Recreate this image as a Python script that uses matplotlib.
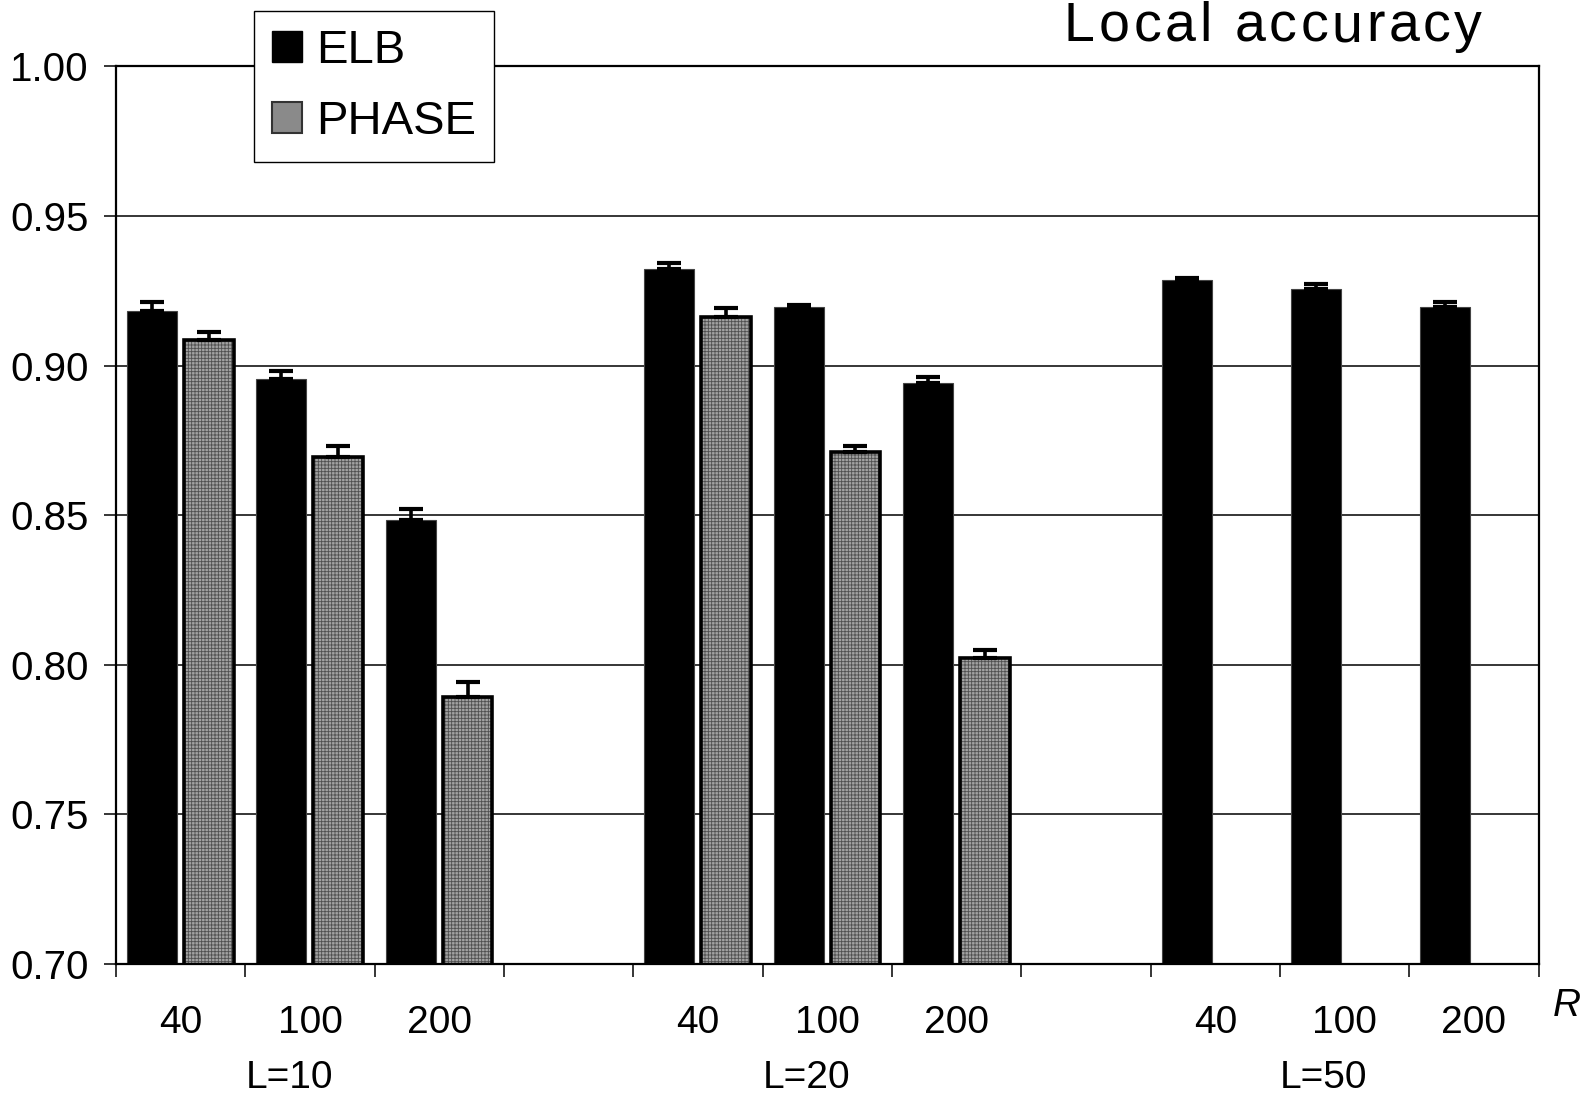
import numpy as np
import matplotlib
matplotlib.use("Agg")
import matplotlib.pyplot as plt
from matplotlib.patches import Patch
from matplotlib import transforms

plt.rcParams['font.family'] = ['Liberation Sans', 'DejaVu Sans']
plt.rcParams['hatch.linewidth'] = 0.6

# R values within each L group, and the groups themselves
r_labels = ['40', '100', '200']
l_groups = ['L=10', 'L=20', 'L=50']

# ELB: all three groups (L=10, L=20, L=50), R = 40, 100, 200
elb_vals = [0.9184, 0.8955, 0.8484,
            0.9324, 0.9195, 0.8943,
            0.9285, 0.9255, 0.9195]
elb_err = [0.0028, 0.0028, 0.0037,
           0.0018, 0.0008, 0.0018,
           0.0008, 0.0017, 0.0017]

# PHASE: only L=10 and L=20
phase_vals = [0.9086, 0.8694, 0.7892,
              0.9164, 0.8712, 0.8022]
phase_err = [0.0026, 0.0038, 0.0049,
             0.0028, 0.0019, 0.0027]

y_ticks = [0.70, 0.75, 0.80, 0.85, 0.90, 0.95, 1.00]

# each R value gets one slot of width 1, with an empty slot between groups
n_slots = len(l_groups) * (len(r_labels) + 1) - 1
slot = np.array([g * 4 + r for g in range(len(l_groups)) for r in range(len(r_labels))])
bar_w = 0.386
elb_x = slot + 0.278
phase_x = slot[:len(phase_vals)] + 0.718

fig = plt.figure(figsize=(15.85, 10.95), dpi=100)
ax = fig.add_axes([0.0732, 0.1196, 0.8975, 0.8197])

for y in y_ticks[1:-1]:
    ax.axhline(y, color='black', lw=1.1, zorder=0)

ax.bar(elb_x, elb_vals, width=bar_w, color='black', edgecolor='#444444', lw=0.8, zorder=2)
# PHASE: fine grey mesh fill, then a black outline on top
ax.bar(phase_x, phase_vals, width=bar_w, color='#a2a2a2', edgecolor='#505050',
       hatch='+++++', lw=0, zorder=2)
ax.bar(phase_x, phase_vals, width=bar_w, fill=False, edgecolor='black', lw=2.6, zorder=3)

ax.errorbar(elb_x, elb_vals, yerr=[np.zeros(len(elb_err)), elb_err], fmt='none',
            ecolor='black', elinewidth=2.6, capsize=8.5, capthick=3, zorder=4)
ax.errorbar(phase_x, phase_vals, yerr=[np.zeros(len(phase_err)), phase_err], fmt='none',
            ecolor='black', elinewidth=2.6, capsize=8.5, capthick=3, zorder=4)

ax.set_xlim(0, n_slots)
ax.set_ylim(0.70, 1.00)
ax.set_yticks(y_ticks)
ax.set_yticklabels([f'{v:.2f}' for v in y_ticks], fontsize=29)
ax.tick_params(axis='y', length=8.5, width=1.1, pad=11, direction='out')

ax.set_xticks(np.arange(n_slots + 1))
ax.set_xticklabels([])
ax.tick_params(axis='x', length=9, width=1.1, direction='out')

for sp in ax.spines.values():
    sp.set_linewidth(1.6)
    sp.set_color('black')

trans = transforms.blended_transform_factory(ax.transData, ax.transAxes)
for g, name in enumerate(l_groups):
    for r, lab in enumerate(r_labels):
        ax.text(g * 4 + r + 0.5, -0.0769, lab, transform=trans, ha='center',
                va='baseline', fontsize=28)
    ax.text(g * 4 + 1.34, -0.138, name, transform=trans, ha='center',
            va='baseline', fontsize=28)
ax.text(1.010, -0.058, 'R', transform=ax.transAxes, ha='left', va='baseline',
        fontsize=28, style='italic')

handles = [Patch(facecolor='black', edgecolor='black'),
           Patch(facecolor='#8a8a8a', edgecolor='#333333', lw=1.5)]
leg = fig.legend(handles, ['ELB', 'PHASE'], loc='upper left',
                 bbox_to_anchor=(0.160, 0.990), bbox_transform=fig.transFigure,
                 fontsize=34, frameon=True, fancybox=False, framealpha=1,
                 edgecolor='black', borderaxespad=0, borderpad=0.38,
                 handlelength=0.64, handleheight=0.64, handletextpad=0.3,
                 labelspacing=0.58)
leg.get_frame().set_linewidth(1.0)
leg.set_zorder(10)

# title with widened letter spacing
title = 'Local accuracy'
t_size = 40
t_left, t_right, t_base = 1064, 1482, 1095 - 41
renderer = fig.canvas.get_renderer()
chars = [fig.text(0, 0, c, fontsize=t_size, va='baseline', ha='left') for c in title]
widths = [t.get_window_extent(renderer).width for t in chars]
space_w = fig.text(0, 0, 'a a', fontsize=t_size).get_window_extent(renderer).width - \
          fig.text(0, 0, 'aa', fontsize=t_size).get_window_extent(renderer).width
widths = [w if c != ' ' else space_w for w, c in zip(widths, title)]
for t in fig.texts[-2:]:
    t.remove()
gap = (t_right - t_left - sum(widths)) / (len(title) - 1)
x = t_left
for t, w in zip(chars, widths):
    t.set_position((x / 1585, t_base / 1095))
    x += w + gap

fig.savefig('out.png', dpi=100)
